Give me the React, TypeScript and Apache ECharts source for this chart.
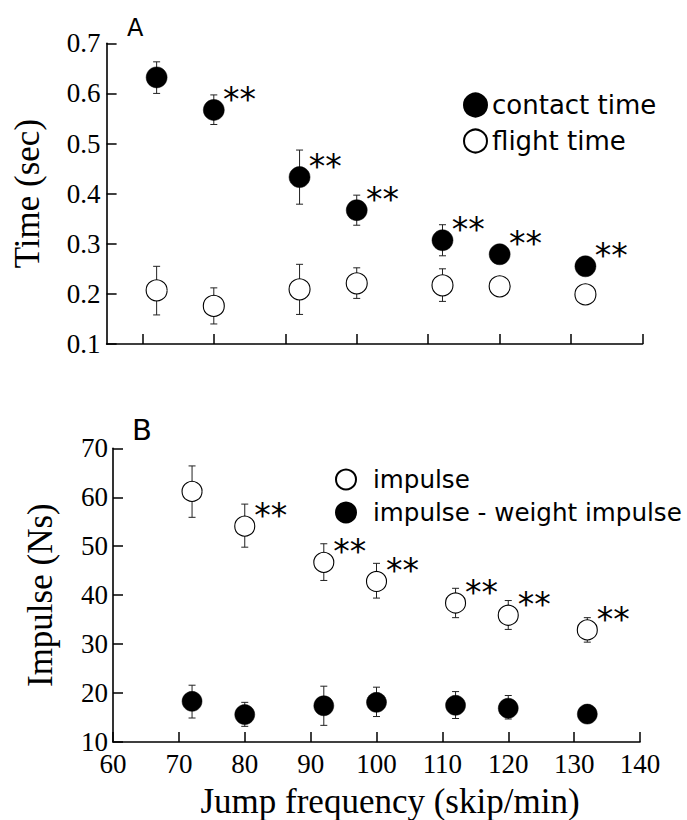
import React, { useEffect, useRef } from "react";
import * as echarts from "echarts";

// Jump frequency (skip/min)
const freq = [72, 80, 92, 100, 112, 120, 132];

// Panel A: time (sec)
const contactTime = [0.632, 0.567, 0.433, 0.367, 0.307, 0.279, 0.255];
const contactLow = [0.6, 0.538, 0.379, 0.337, 0.276, 0.268, 0.245];
const contactHigh = [0.663, 0.597, 0.487, 0.397, 0.338, 0.29, 0.265];
const contactSig = [false, true, true, true, true, true, true];
const flightTime = [0.207, 0.176, 0.209, 0.221, 0.217, 0.215, 0.199];
const flightLow = [0.158, 0.14, 0.159, 0.191, 0.185, 0.205, 0.189];
const flightHigh = [0.255, 0.212, 0.259, 0.252, 0.25, 0.225, 0.209];

// Panel B: impulse (Ns)
const impulse = [61.2, 54.1, 46.7, 42.8, 38.4, 35.9, 32.9];
const impulseLow = [55.9, 49.8, 43.0, 39.4, 35.4, 33.0, 30.4];
const impulseHigh = [66.4, 58.6, 50.5, 46.5, 41.4, 38.9, 35.4];
const impulseSig = [false, true, true, true, true, true, true];
const netImpulse = [18.3, 15.6, 17.4, 18.1, 17.5, 16.9, 15.7];
const netLow = [14.9, 13.2, 13.4, 15.2, 14.8, 14.7, 14.3];
const netHigh = [21.6, 18.1, 21.4, 21.2, 20.3, 19.5, 17.1];

// Axis ticks
const aXTicks = [70, 80, 90, 100, 110, 120, 130, 140];

const SERIF = "Liberation Serif";
const SANS = "DejaVu Sans";

function errData(lo: number[], hi: number[]) {
  return freq.map((f, i) => [f, lo[i], hi[i]]);
}

function errSeries(lo: number[], hi: number[], axis: number) {
  return {
    type: "custom",
    xAxisIndex: axis,
    yAxisIndex: axis,
    z: 1,
    silent: true,
    encode: { x: 0, y: [1, 2] },
    data: errData(lo, hi),
    renderItem: (params: any, api: any) => {
      const x = api.value(0);
      const pLo = api.coord([x, api.value(1)]);
      const pHi = api.coord([x, api.value(2)]);
      const hw = 3.5;
      const style = { stroke: "#222", lineWidth: 1 };
      return {
        type: "group",
        children: [
          { type: "line", shape: { x1: pLo[0], y1: pLo[1], x2: pHi[0], y2: pHi[1] }, style },
          { type: "line", shape: { x1: pHi[0] - hw, y1: pHi[1], x2: pHi[0] + hw, y2: pHi[1] }, style },
          { type: "line", shape: { x1: pLo[0] - hw, y1: pLo[1], x2: pLo[0] + hw, y2: pLo[1] }, style },
        ],
      };
    },
  };
}

function pointData(vals: number[], sig?: boolean[]) {
  return freq.map((f, i) => ({
    value: [f, vals[i]],
    label: { show: !!(sig && sig[i]) },
  }));
}

const sigLabel = {
  show: false,
  formatter: "**",
  position: [20, 0],
  align: "left",
  verticalAlign: "middle",
  fontFamily: SANS,
  fontSize: 33,
  color: "#000",
};

export default function App() {
  const ref = useRef<HTMLDivElement>(null);

  useEffect(() => {
    if (!ref.current) return;
    const chart = echarts.init(ref.current, null, { renderer: "svg" });

    const axisLine = { show: true, lineStyle: { color: "#000", width: 1.6 } };
    const axisTick = { show: true, inside: true, length: 10, lineStyle: { color: "#000", width: 1.5 } };
    const tickFont = { fontFamily: SERIF, fontSize: 27, color: "#000" };

    chart.setOption({
      animation: false,
      backgroundColor: "#fff",
      title: [
        { text: "A", left: 122, top: 11, textStyle: { fontFamily: SANS, fontSize: 24, fontWeight: "normal", color: "#000" } },
        { text: "B", left: 127, top: 410, textStyle: { fontFamily: SANS, fontSize: 29, fontWeight: "normal", color: "#000" } },
      ],
      legend: [
        {
          data: ["contact time", "flight time"],
          orient: "vertical",
          left: 458,
          top: 87,
          itemWidth: 23,
          itemHeight: 23,
          itemGap: 10,
          icon: "circle",
          textStyle: { fontFamily: SANS, fontSize: 26, color: "#000", padding: [0, 0, 0, 0] },
        },
        {
          data: ["impulse", "impulse - weight impulse"],
          orient: "vertical",
          left: 330,
          top: 462,
          itemWidth: 20,
          itemHeight: 20,
          itemGap: 8,
          icon: "circle",
          textStyle: { fontFamily: SANS, fontSize: 24.6, color: "#000", padding: [0, 0, 0, 12] },
        },
      ],
      grid: [
        { left: 106.6, top: 43.3, width: 536, height: 300.7, containLabel: false },
        { left: 113, top: 448.3, width: 527, height: 297.7, containLabel: false },
      ],
      xAxis: [
        {
          type: "value",
          gridIndex: 0,
          min: 65,
          max: 140,
          axisLine,
          axisTick: { ...axisTick, customValues: aXTicks },
          axisLabel: { show: false },
          splitLine: { show: false },
        },
        {
          type: "value",
          gridIndex: 1,
          min: 60,
          max: 140,
          interval: 10,
          axisLine,
          axisTick,
          axisLabel: { ...tickFont, margin: 8 },
          splitLine: { show: false },
          name: "Jump frequency (skip/min)",
          nameLocation: "middle",
          nameGap: 42,
          nameTextStyle: { fontFamily: SERIF, fontSize: 35, color: "#000", padding: [0, 0, 0, 27] },
        },
      ],
      yAxis: [
        {
          type: "value",
          gridIndex: 0,
          min: 0.1,
          max: 0.7,
          interval: 0.1,
          axisLine,
          axisTick,
          axisLabel: { ...tickFont, margin: 6, formatter: (v: number) => v.toFixed(1) },
          splitLine: { show: false },
          name: "Time (sec)",
          nameLocation: "middle",
          nameGap: 62,
          nameTextStyle: { fontFamily: SERIF, fontSize: 35, color: "#000" },
        },
        {
          type: "value",
          gridIndex: 1,
          min: 10,
          max: 70,
          interval: 10,
          axisLine,
          axisTick,
          axisLabel: { ...tickFont, margin: 5 },
          splitLine: { show: false },
          name: "Impulse (Ns)",
          nameLocation: "middle",
          nameGap: 55,
          nameTextStyle: { fontFamily: SERIF, fontSize: 35, color: "#000" },
        },
      ],
      series: [
        errSeries(contactLow, contactHigh, 0),
        errSeries(flightLow, flightHigh, 0),
        errSeries(impulseLow, impulseHigh, 1),
        errSeries(netLow, netHigh, 1),
        {
          name: "contact time",
          type: "scatter",
          xAxisIndex: 0,
          yAxisIndex: 0,
          symbol: "circle",
          symbolSize: 21,
          z: 3,
          itemStyle: { color: "#000", borderColor: "#000", borderWidth: 0.5, opacity: 1 },
          label: sigLabel,
          data: pointData(contactTime, contactSig),
        },
        {
          name: "flight time",
          type: "scatter",
          xAxisIndex: 0,
          yAxisIndex: 0,
          symbol: "circle",
          symbolSize: 21,
          z: 3,
          itemStyle: { color: "#fff", borderColor: "#000", borderWidth: 1.1, opacity: 1 },
          data: pointData(flightTime),
        },
        {
          name: "impulse",
          type: "scatter",
          xAxisIndex: 1,
          yAxisIndex: 1,
          symbol: "circle",
          symbolSize: 20,
          z: 3,
          itemStyle: { color: "#fff", borderColor: "#000", borderWidth: 1.1, opacity: 1 },
          label: sigLabel,
          data: pointData(impulse, impulseSig),
        },
        {
          name: "impulse - weight impulse",
          type: "scatter",
          xAxisIndex: 1,
          yAxisIndex: 1,
          symbol: "circle",
          symbolSize: 20,
          z: 3,
          itemStyle: { color: "#000", borderColor: "#000", borderWidth: 0.5, opacity: 1 },
          data: pointData(netImpulse),
        },
      ],
    });

    return () => chart.dispose();
  }, []);

  return (
    <div
      ref={ref}
      style={{ position: "absolute", left: 0, top: 0, width: 687, height: 820, background: "#fff" }}
    />
  );
}
